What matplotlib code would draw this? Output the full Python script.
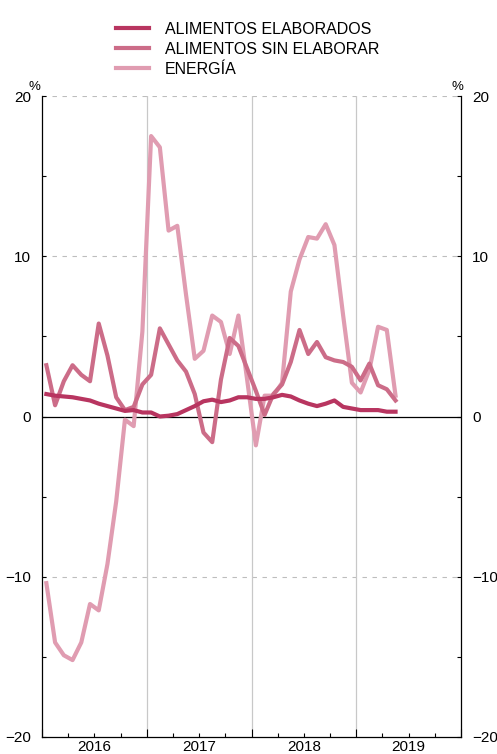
import matplotlib.pyplot as plt
from matplotlib.lines import Line2D

plt.rcParams['font.family'] = ['Liberation Sans', 'DejaVu Sans']

# monthly data, Jan 2016 - May 2019 (%)
elaborados = [1.4, 1.3, 1.25, 1.2, 1.1, 1.0, 0.8, 0.65, 0.5, 0.35,
              0.4, 0.25, 0.25, 0.0, 0.05, 0.15, 0.4, 0.65, 0.95, 1.05,
              0.9, 1.0, 1.2, 1.2, 1.1, 1.1, 1.2, 1.35, 1.25, 1.0,
              0.8, 0.65, 0.8, 1.0, 0.6, 0.5, 0.4, 0.4, 0.4, 0.3, 0.3]
sin_elaborar = [3.2, 0.7, 2.2, 3.2, 2.6, 2.2, 5.8, 3.8, 1.2, 0.4,
                0.6, 2.0, 2.6, 5.5, 4.5, 3.5, 2.8, 1.4, -1.0, -1.6,
                2.3, 4.9, 4.4, 3.0, 1.6, 0.1, 1.4, 2.0, 3.4, 5.4,
                3.9, 4.65, 3.7, 3.5, 3.4, 3.1, 2.25, 3.3, 1.95, 1.7, 1.0]
energia = [-10.4, -14.1, -14.9, -15.2, -14.1, -11.7, -12.1, -9.2, -5.3, -0.2,
           -0.6, 5.3, 17.5, 16.8, 11.6, 11.9, 7.6, 3.6, 4.1, 6.3,
           5.9, 3.9, 6.3, 2.3, -1.8, 1.3, 1.3, 2.1, 7.8, 9.8,
           11.2, 11.1, 12.0, 10.7, 6.3, 2.1, 1.5, 2.9, 5.6, 5.4, 1.3]
years = [2016, 2017, 2018, 2019]
labels = ['ALIMENTOS ELABORADOS', 'ALIMENTOS SIN ELABORAR', 'ENERGÍA']
colors = ['#b83560', '#cc6c88', '#e09cb1']

x = [2016 + (i + 0.5) / 12 for i in range(len(energia))]

fig = plt.figure(figsize=(4.97, 7.54), dpi=100)
ax = fig.add_axes([42 / 497, 1 - 737 / 754, 419 / 497, 641 / 754])

# grid
for yv in [20, 10, -10]:
    ax.axhline(yv, color='#bdbdbd', lw=0.8, ls=(0, (4, 5)), zorder=1)
for yr in years[1:]:
    ax.axvline(yr, color='#c8c8c8', lw=0.9, zorder=1)
ax.axhline(0, color='black', lw=0.9, zorder=2)

# series (drawn light to dark)
ax.plot(x, energia, color=colors[2], lw=3, zorder=3)
ax.plot(x, sin_elaborar, color=colors[1], lw=3, zorder=4)
ax.plot(x, elaborados, color=colors[0], lw=3, zorder=5)

ax.set_xlim(2016, 2020)
ax.set_ylim(-20, 20)

ax.spines['top'].set_visible(False)
for s in ['left', 'right', 'bottom']:
    ax.spines[s].set_linewidth(0.9)

ax.set_yticks([-20, -10, 0, 10, 20])
ax.set_yticks([-15, -5, 5, 15], minor=True)
ax.tick_params(axis='y', which='both', direction='in', left=True, right=True,
               labelleft=True, labelright=True, length=3, width=0.8,
               labelsize=11, pad=8)

ax.set_xticks([2016, 2017, 2018, 2019, 2020])
ax.set_xticklabels([])
ax.set_xticks([y + q / 4 for y in years for q in (1, 2, 3)], minor=True)
ax.tick_params(axis='x', which='major', direction='in', length=6, width=0.8)
ax.tick_params(axis='x', which='minor', direction='in', length=3, width=0.8)

for yr in years:
    ax.text(yr + 0.5, -20.2, str(yr), ha='center', va='top', fontsize=11)

ax.text(-0.005, 1.005, '%', transform=ax.transAxes, ha='right', va='bottom', fontsize=9.5)
ax.text(1.005, 1.005, '%', transform=ax.transAxes, ha='right', va='bottom', fontsize=9.5)

handles = [Line2D([], [], color=c, lw=3) for c in colors]
fig.legend(handles, labels, loc='upper left', bbox_to_anchor=(116 / 497, 1 - 22 / 754),
           frameon=False, fontsize=11.5, handlelength=2.05, handletextpad=1.0,
           labelspacing=0.3, borderpad=0, borderaxespad=0)

fig.savefig('out.png', dpi=100)
